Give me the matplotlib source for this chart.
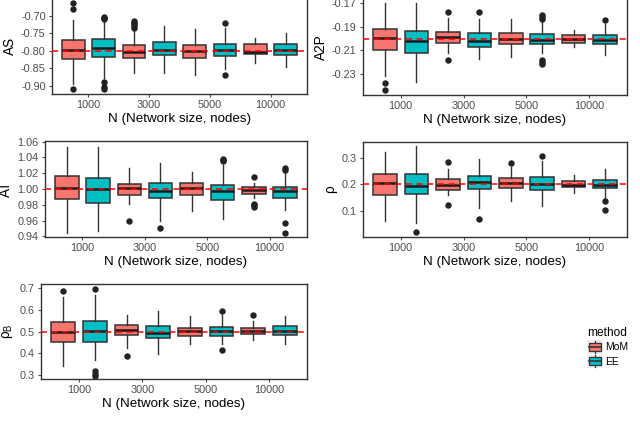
import matplotlib
matplotlib.use("Agg")
import matplotlib.pyplot as plt
from matplotlib.patches import Patch, Rectangle
from matplotlib.lines import Line2D
from matplotlib.legend_handler import HandlerBase

plt.rcParams['font.family'] = ['Liberation Sans', 'DejaVu Sans']
plt.rcParams['axes.unicode_minus'] = False
plt.rcParams['mathtext.fontset'] = 'custom'
plt.rcParams['mathtext.rm'] = 'Liberation Sans'

# group labels and methods
sizes = ['1000', '3000', '5000', '10000']
methods = ['MoM', 'EE']
colors = ['#F8766D', '#00BFC4']

# each entry: (whislo, q1, med, q3, whishi, [outliers])
as_mom = [(-0.895, -0.825, -0.797, -0.770, -0.712, [-0.909, -0.665, -0.681]),
          (-0.864, -0.820, -0.803, -0.785, -0.739, [-0.715, -0.720, -0.725, -0.730, -0.736]),
          (-0.870, -0.820, -0.800, -0.783, -0.739, []),
          (-0.836, -0.811, -0.803, -0.780, -0.764, [])]
as_ee = [(-0.877, -0.817, -0.794, -0.767, -0.715, [-0.891, -0.905, -0.909, -0.705, -0.708, -0.711]),
         (-0.864, -0.814, -0.797, -0.775, -0.731, []),
         (-0.853, -0.816, -0.799, -0.781, -0.736, [-0.722, -0.870]),
         (-0.848, -0.814, -0.799, -0.780, -0.750, [])]

a2p_mom = [(-0.2317, -0.2094, -0.1997, -0.1917, -0.1700, [-0.2380, -0.2437]),
           (-0.2123, -0.2037, -0.1983, -0.1943, -0.1823, [-0.1770, -0.2186]),
           (-0.2157, -0.2043, -0.2000, -0.1949, -0.1837, []),
           (-0.2071, -0.2037, -0.2003, -0.1969, -0.1923, [])]
a2p_ee = [(-0.2366, -0.2123, -0.2017, -0.1937, -0.1700, []),
          (-0.2171, -0.2071, -0.2017, -0.1954, -0.1837, [-0.1770]),
          (-0.2123, -0.2046, -0.2009, -0.1960, -0.1851, [-0.1800, -0.1815, -0.1830, -0.2186, -0.2200, -0.2214]),
          (-0.2137, -0.2043, -0.2009, -0.1966, -0.1880, [-0.1843])]

at_mom = [(0.9443, 0.9871, 1.0015, 1.0164, 1.0536, []),
          (0.9808, 0.9922, 1.0007, 1.0062, 1.0270, [0.9600]),
          (0.9719, 0.9922, 1.0015, 1.0079, 1.0219, []),
          (0.9880, 0.9943, 0.9986, 1.0024, 1.0070, [1.0155, 0.9816, 0.9795, 0.9774])]
at_ee = [(0.9464, 0.9825, 1.0000, 1.0142, 1.0528, []),
         (0.9596, 0.9880, 0.9977, 1.0079, 1.0333, [0.9511]),
         (0.9625, 0.9858, 0.9977, 1.0049, 1.0303, [1.0380, 1.0370, 1.0358]),
         (0.9731, 0.9892, 0.9973, 1.0028, 1.0219, [1.0270, 1.0245, 0.9575, 0.9443])]

rho_mom = [(0.0627, 0.1621, 0.2043, 0.2404, 0.3211, []),
           (0.1596, 0.1807, 0.1969, 0.2205, 0.2578, [0.2826, 0.1248]),
           (0.1398, 0.1870, 0.2043, 0.2242, 0.2640, [0.2789]),
           (0.1683, 0.1907, 0.1994, 0.2143, 0.2366, [])]
rho_ee = [(0.0565, 0.1646, 0.1957, 0.2404, 0.3422, [0.0217]),
          (0.1124, 0.1832, 0.2081, 0.2304, 0.2963, [0.0727]),
          (0.1186, 0.1807, 0.2019, 0.2267, 0.2888, [0.3075]),
          (0.1472, 0.1857, 0.1994, 0.2168, 0.2578, [0.1373, 0.1050])]

rhob_mom = [(0.3398, 0.4502, 0.4977, 0.5421, 0.6586, [0.6847]),
            (0.4226, 0.4839, 0.5084, 0.5299, 0.5774, [0.3889]),
            (0.4441, 0.4808, 0.5038, 0.5161, 0.5697, []),
            (0.4625, 0.4870, 0.5038, 0.5146, 0.5467, [0.5774])]
rhob_ee = [(0.3705, 0.4533, 0.5023, 0.5467, 0.6693, [0.6969, 0.3169, 0.3050, 0.2960]),
           (0.3981, 0.4686, 0.4931, 0.5238, 0.5927, []),
           (0.4425, 0.4778, 0.5023, 0.5192, 0.5743, [0.5958, 0.4165]),
           (0.4425, 0.4824, 0.5023, 0.5238, 0.5697, [])]

# panel settings: label, data, true value, ylim, ticks, tick format, axes box (px: left, top, right, bottom)
panels = [
    ('AS', as_mom, as_ee, -0.80, (-0.924, -0.650), [-0.90, -0.85, -0.80, -0.75, -0.70], '%.2f', (52, -2, 307, 94)),
    ('A2P', a2p_mom, a2p_ee, -0.20, (-0.248, -0.1663), [-0.23, -0.21, -0.19, -0.17], '%.2f', (363, -1, 627, 95)),
    ('AT', at_mom, at_ee, 1.00, (0.9392, 1.0608), [0.94, 0.96, 0.98, 1.00, 1.02, 1.04, 1.06], '%.2f', (45, 141, 307, 237)),
    ('ρ', rho_mom, rho_ee, 0.20, (0.0043, 0.358), [0.1, 0.2, 0.3], '%.1f', (363, 142, 627, 237)),
    (r'ρ$_{\mathrm{B}}$', rhob_mom, rhob_ee, 0.50, (0.2816, 0.7184), [0.3, 0.4, 0.5, 0.6, 0.7], '%.1f', (41, 284, 307, 379)),
]

W, H = 640, 437
fig = plt.figure(figsize=(6.4, 4.37), dpi=100)

edge = '#333333'


def stats_of(entry):
    lo, q1, med, q3, hi, out = entry
    return dict(whislo=lo, q1=q1, med=med, q3=q3, whishi=hi, fliers=out)


for label, mom, ee, truth, ylim, ticks, fmt, box in panels:
    l, t, r, b = box
    ax = fig.add_axes([l / W, 1 - b / H, (r - l) / W, (b - t) / H])
    for k, (data, col) in enumerate(zip([mom, ee], colors)):
        pos = [i + 1 + (k - 0.5) * 0.5 for i in range(len(sizes))]
        ax.bxp([stats_of(e) for e in data], positions=pos, widths=0.375,
               patch_artist=True, manage_ticks=False,
               boxprops=dict(facecolor=col, edgecolor=edge, linewidth=1.1),
               whiskerprops=dict(color=edge, linewidth=1.0),
               capprops=dict(linewidth=0),
               medianprops=dict(color='#1a1a1a', linewidth=1.8),
               flierprops=dict(marker='o', markerfacecolor='#222222',
                               markeredgecolor='#222222', markersize=3.6))
    ax.axhline(truth, color='red', linestyle=(0, (4, 3)), linewidth=1.1, zorder=5)
    ax.set_xlim(0.4, len(sizes) + 0.6)
    ax.set_ylim(*ylim)
    ax.set_xticks(range(1, len(sizes) + 1))
    ax.set_xticklabels(sizes)
    ax.set_yticks(ticks)
    ax.set_yticklabels([fmt % v for v in ticks])
    ax.tick_params(colors='#4D4D4D', labelsize=7.8, length=2.5, width=0.8, pad=2)
    for s in ax.spines.values():
        s.set_color('#333333')
        s.set_linewidth(1.0)
    ax.set_ylabel(label, fontsize=9.8, labelpad=3)
    ax.set_xlabel('N (Network size, nodes)', fontsize=9.6, labelpad=2)


class BoxKey(HandlerBase):
    def create_artists(self, legend, orig_handle, xdescent, ydescent,
                       width, height, fontsize, trans):
        x0, y0 = -xdescent, -ydescent
        bg = Rectangle((x0, y0), width, height, facecolor='#EDEDED',
                       edgecolor='none', transform=trans)
        wh = Line2D([x0 + width / 2] * 2, [y0 + 0.5, y0 + height - 0.5], color=edge,
                    linewidth=0.9, transform=trans)
        bx = Rectangle((x0 + 1.2, y0 + height * 0.2), width - 2.4, height * 0.6,
                       facecolor=orig_handle.get_facecolor(), edgecolor=edge,
                       linewidth=0.9, transform=trans)
        md = Line2D([x0 + 1.2, x0 + width - 1.2], [y0 + height / 2] * 2, color=edge,
                    linewidth=1.2, transform=trans)
        return [bg, wh, bx, md]


handles = [Patch(facecolor=c) for c in colors]
leg = fig.legend(handles, methods, loc='upper left',
                 bbox_to_anchor=(582 / W, 1 - 322 / H), frameon=False,
                 title='method', title_fontsize=8.6, fontsize=7.5,
                 handler_map={Patch: BoxKey()}, handlelength=1.5,
                 handleheight=1.6, handletextpad=0.25, labelspacing=0.1,
                 borderpad=0, alignment='left')

fig.savefig('out.png', dpi=100)
